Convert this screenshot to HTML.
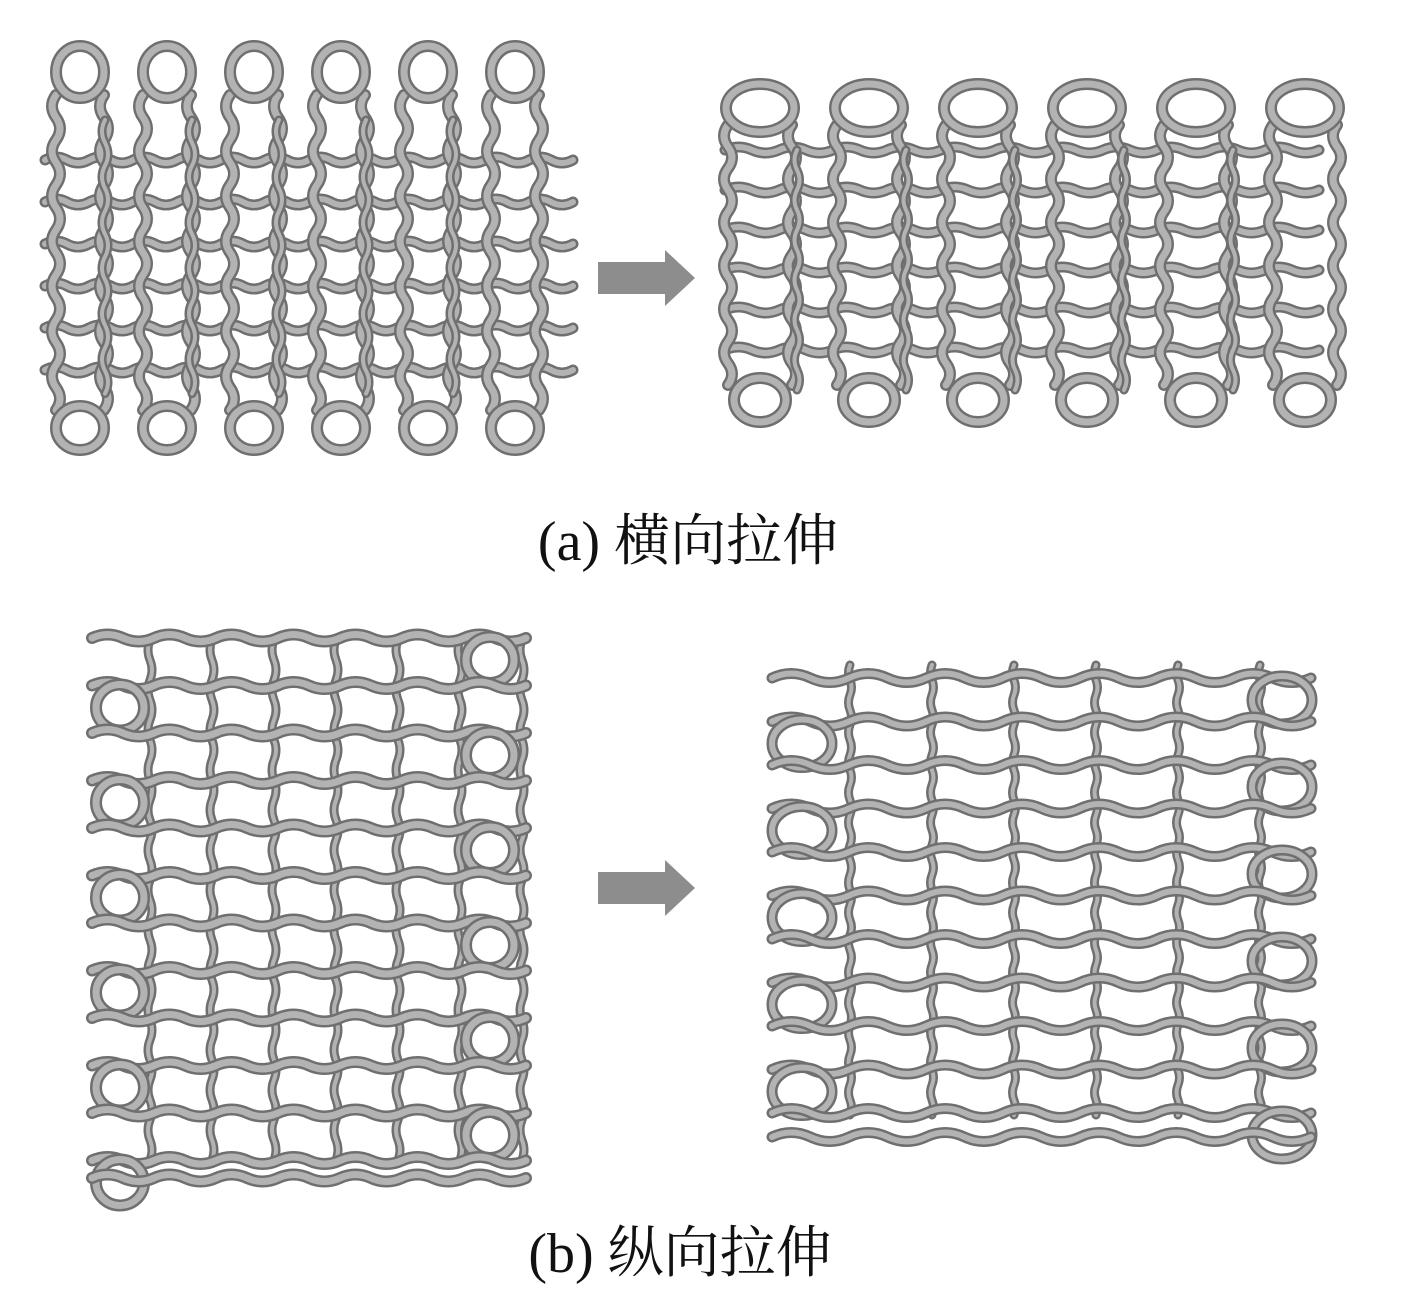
<!DOCTYPE html>
<html><head><meta charset="utf-8"><style>
html,body{margin:0;padding:0;background:#fff;}
svg{display:block;}
.cap{font-family:"Liberation Serif","Noto Serif CJK SC",serif;font-size:56px;fill:#111;}
</style></head><body>
<svg id="s" width="1418" height="1310" viewBox="0 0 1418 1310" xmlns="http://www.w3.org/2000/svg">
<g id="g"></g>
<polygon points="598,262 665,262 665,250 695,278 665,306 665,294 598,294" fill="#8d8d8d"/>
<polygon points="598,872 665,872 665,860 695,888 665,916 665,904 598,904" fill="#8d8d8d"/>
<text class="cap" x="688" y="560" text-anchor="middle">(a) 横向拉伸</text>
<text class="cap" x="680" y="1272" text-anchor="middle">(b) 纵向拉伸</text>
</svg>
<script>
var out=[];
function st(d,w){w=w||12;out.push('<path d="'+d+'" fill="none" stroke="#6f6f6f" stroke-width="'+w+'" stroke-linecap="round"/>');out.push('<path d="'+d+'" fill="none" stroke="#b3b3b3" stroke-width="'+(w-5)+'" stroke-linecap="round"/>');}
function ell(cx,cy,rx,ry,w){st('M'+(cx-rx)+','+cy+' a'+rx+','+ry+' 0 1,0 '+(2*rx)+',0 a'+rx+','+ry+' 0 1,0 '+(-2*rx)+',0',w);}
function wavyH(x1,x2,y,amp,per){var d='M'+x1+','+y;for(var x=x1;x+per<=x2+1;x+=per){d+=' q'+(per/4)+','+(-amp)+' '+(per/2)+',0 q'+(per/4)+','+amp+' '+(per/2)+',0';}return d;}
function wavyV(x,y1,y2,amp,per){var d='M'+x+','+y1;for(var y=y1;y+per<=y2+1;y+=per){d+=' q'+(-amp)+','+(per/4)+' 0,'+(per/2)+' q'+amp+','+(per/4)+' 0,'+(per/2);}return d;}
var i,c,y,j;
// (a) left
for(y=160;y<=370;y+=42){st(wavyH(45,573,y,6,44),11);}
for(i=0;i<6;i++){c=80+87*i;
 st(wavyV(c-24,95,410,8,45),12);st(wavyV(c+24,95,410,8,45),12);
 if(i>0)st(wavyV(c-62,120,394,6,45.6),9);
 ell(c,72,24,26,12);ell(c,428,24,22,12);}
// (a) right
for(y=150;y<=370;y+=40){st(wavyH(725,1363,y,6,54),11);}
for(i=0;i<6;i++){c=760+109*i;
 st(wavyV(c-32,125,385,8,43.33),12);st(wavyV(c+32,125,385,8,43.33),12);
 if(i>0)st(wavyV(c-72,150,390,5,40),9);
 ell(c,108,34,24,12);ell(c,400,26,22,12);}
// (b) left
for(i=0;i<7;i++){c=150+62*i;st(wavyV(c,640,1190,4,40),9);}
for(j=0;j<12;j++){y=660+47.5*j;
 st(wavyH(92,525,y-22,7,62),12);
 if(j%2==0){ell(490,y,24,23,12);} else {ell(120,y,24,23,12);}
}
st(wavyH(92,525,1178,7,62),12);
// (b) right
for(i=0;i<6;i++){c=850+82*i;st(wavyV(c,665,1140,3,30),9);}
for(j=0;j<11;j++){y=700+43.5*j;
 st(wavyH(772,1312,y-22,9,77),11);
 if(j%2==0){ell(1282,y,30,24,11);} else {ell(802,y,30,24,11);}
}
st(wavyH(772,1312,1137,9,77),11);
document.getElementById('g').innerHTML=out.join('');
</script>
</body></html>
